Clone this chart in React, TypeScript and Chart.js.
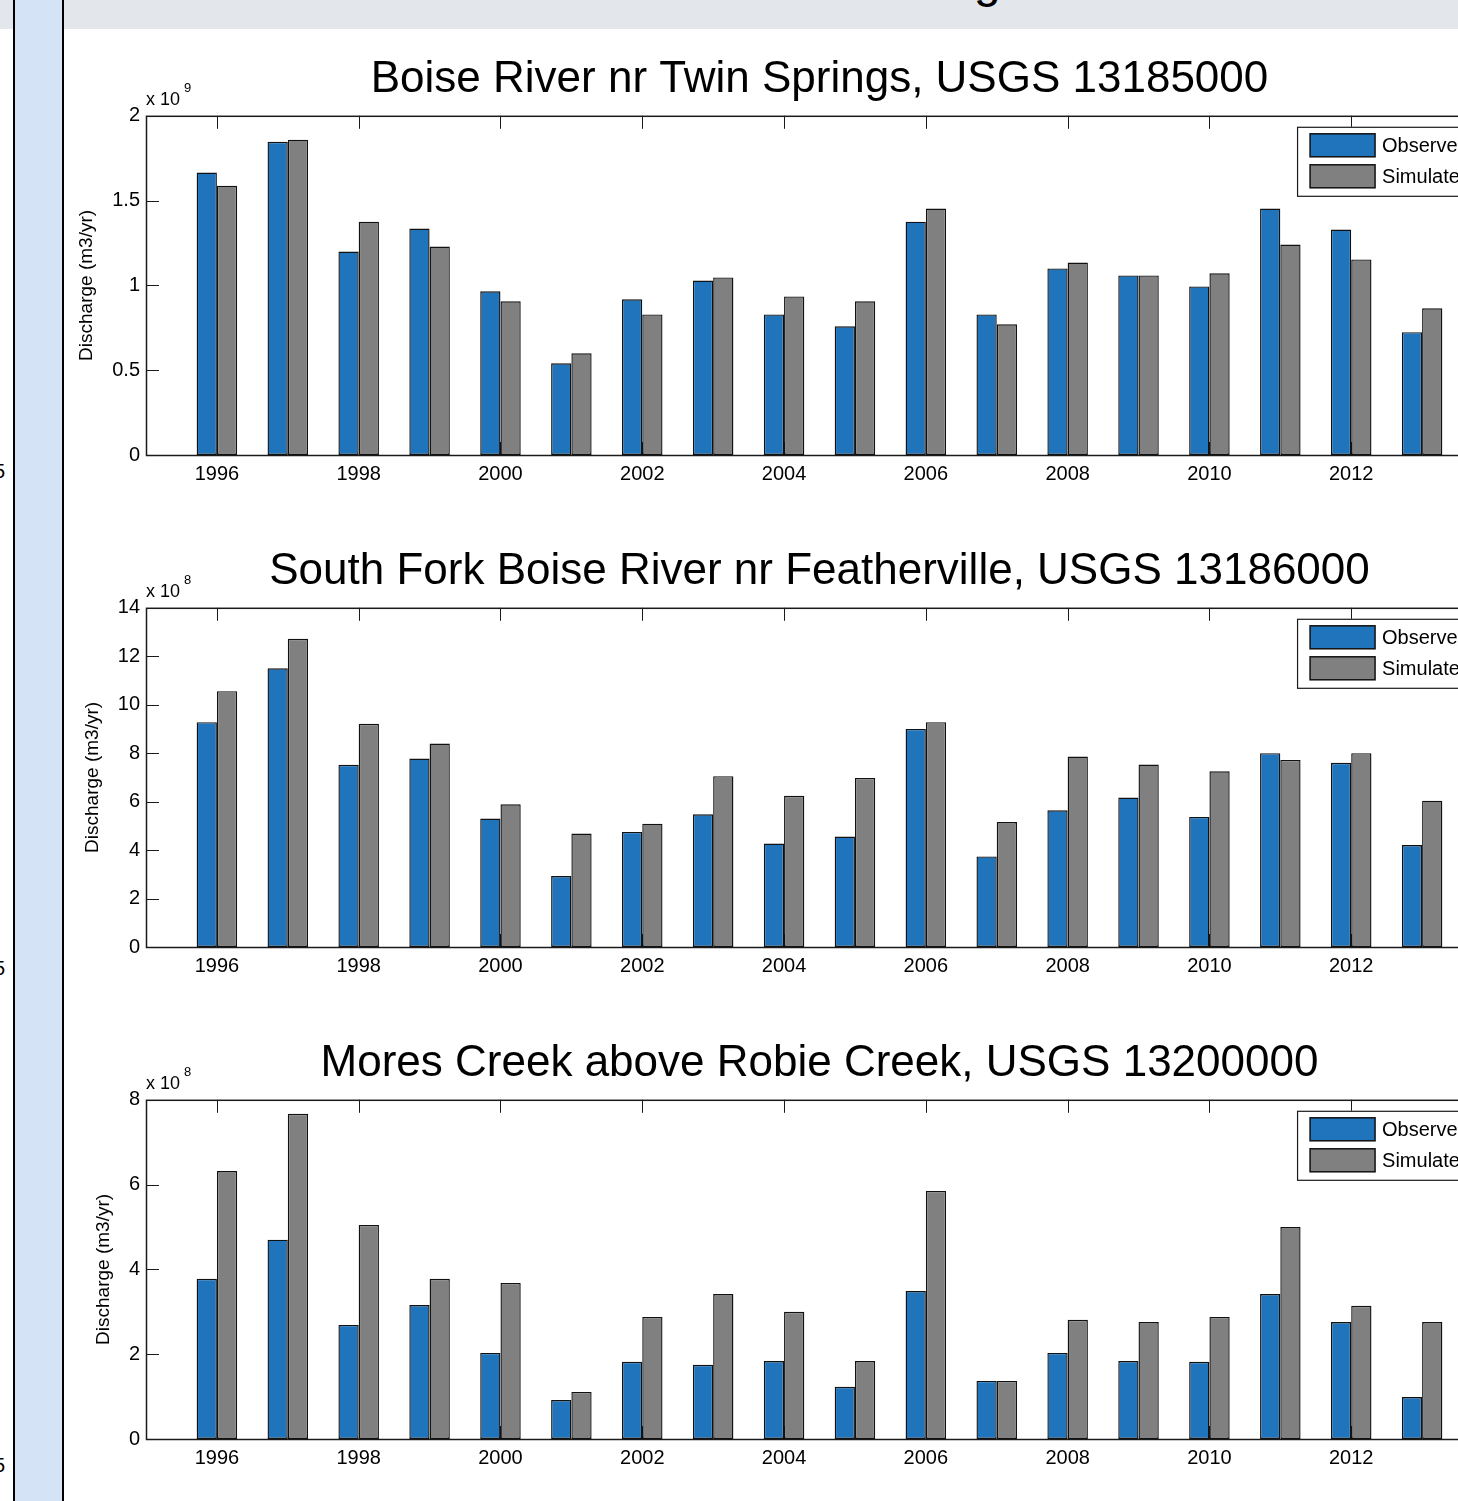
import React, { useEffect, useRef } from 'react';
import { Chart, registerables } from 'chart.js';

Chart.register(...registerables);

// Water years on the x axis and the years that get a tick label
const years = [1996, 1997, 1998, 1999, 2000, 2001, 2002, 2003, 2004, 2005, 2006, 2007, 2008, 2009, 2010, 2011, 2012, 2013];
const xTickYears = [1996, 1998, 2000, 2002, 2004, 2006, 2008, 2010, 2012, 2014];
const seriesNames = ['Observed', 'Simulated'];
const seriesColors = ['#1f74bc', '#808080'];
const yAxisTitle = 'Discharge (m3/yr)';

// Boise River nr Twin Springs (units of 10^9 m3/yr)
const twinTitle = 'Boise River nr Twin Springs, USGS 13185000';
const twinObserved = [1.665, 1.847, 1.2, 1.335, 0.965, 0.541, 0.918, 1.029, 0.829, 0.759, 1.376, 0.829, 1.1, 1.059, 0.994, 1.453, 1.329, 0.724];
const twinSimulated = [1.588, 1.859, 1.376, 1.229, 0.906, 0.6, 0.829, 1.047, 0.935, 0.906, 1.453, 0.771, 1.135, 1.059, 1.071, 1.241, 1.153, 0.865];
const twinExponent = 9;
const twinYMax = 2;
const twinYStep = 0.5;

// South Fork Boise River nr Featherville (units of 10^8 m3/yr)
const featherTitle = 'South Fork Boise River nr Featherville, USGS 13186000';
const featherObserved = [9.28, 11.5, 7.52, 7.78, 5.3, 2.93, 4.75, 5.48, 4.27, 4.56, 9.0, 3.74, 5.64, 6.17, 5.37, 8.0, 7.6, 4.21];
const featherSimulated = [10.56, 12.72, 9.21, 8.4, 5.89, 4.68, 5.09, 7.05, 6.24, 6.98, 9.28, 5.16, 7.86, 7.53, 7.25, 7.72, 8.0, 6.04];
const featherExponent = 8;
const featherYMax = 14;
const featherYStep = 2;

// Mores Creek above Robie Creek (units of 10^8 m3/yr)
const moresTitle = 'Mores Creek above Robie Creek, USGS 13200000';
const moresObserved = [3.78, 4.7, 2.69, 3.16, 2.03, 0.92, 1.82, 1.75, 1.84, 1.23, 3.49, 1.37, 2.03, 1.84, 1.82, 3.42, 2.76, 0.99];
const moresSimulated = [6.32, 7.67, 5.05, 3.78, 3.68, 1.11, 2.88, 3.42, 3.0, 1.84, 5.85, 1.37, 2.81, 2.76, 2.88, 5.0, 3.14, 2.76];
const moresExponent = 8;
const moresYMax = 8;
const moresYStep = 2;

const FONT = "'Liberation Sans', Arial, Helvetica, sans-serif";
const AXIS_COLOR = '#1a1a1a';
const EDGE_COLOR = '#111111';
const TICK_LEN = 13;
const CANVAS_W = 1560;
const CANVAS_H = 492;

// Plain tick text: 1, 0.5, 1.5 (no forced decimals)
const plainNumber = (v: number) => String(Math.round(v * 1000) / 1000);

// MATLAB-style axes: boxed frame, inward ticks on all sides, exponent note,
// y-axis label and an upper-right legend.
const matlabAxes = {
  id: 'matlabAxes',
  beforeDatasetsDraw(chart: any) {
    const { ctx, chartArea: a, scales } = chart;
    const x = scales.x;
    const y = scales.y;
    ctx.save();
    ctx.strokeStyle = AXIS_COLOR;
    ctx.lineWidth = 1;
    ctx.beginPath();
    for (const t of x.ticks) {
      const px = Math.round(x.getPixelForValue(t.value)) + 0.5;
      ctx.moveTo(px, a.top);
      ctx.lineTo(px, a.top + TICK_LEN);
      ctx.moveTo(px, a.bottom);
      ctx.lineTo(px, a.bottom - TICK_LEN);
    }
    for (const t of y.ticks) {
      const py = Math.round(y.getPixelForValue(t.value)) + 0.5;
      ctx.moveTo(a.left, py);
      ctx.lineTo(a.left + TICK_LEN, py);
      ctx.moveTo(a.right, py);
      ctx.lineTo(a.right - TICK_LEN, py);
    }
    ctx.stroke();
    ctx.restore();
  },
  afterDatasetsDraw(chart: any, _args: any, opts: any) {
    const { ctx, chartArea: a, scales } = chart;
    const y = scales.y;
    ctx.save();

    // axes box
    ctx.strokeStyle = AXIS_COLOR;
    ctx.lineWidth = 1.5;
    ctx.strokeRect(a.left + 0.5, a.top + 0.5, a.right - a.left, a.bottom - a.top);

    // exponent note "x 10^n"
    ctx.fillStyle = '#000';
    ctx.textAlign = 'left';
    ctx.textBaseline = 'alphabetic';
    ctx.font = `18px ${FONT}`;
    const base = 'x 10';
    ctx.fillText(base, a.left, a.top - 11);
    const bw = ctx.measureText(base).width;
    ctx.font = `13px ${FONT}`;
    ctx.fillText(String(opts.exponent), a.left + bw + 4, a.top - 24);

    // y-axis label, placed left of the widest tick label
    ctx.font = `20px ${FONT}`;
    let maxW = 0;
    for (const t of y.ticks) maxW = Math.max(maxW, ctx.measureText(String(t.label)).width);
    const cx = a.left - 6 - maxW - 14 - 11;
    ctx.save();
    ctx.translate(cx, (a.top + a.bottom) / 2);
    ctx.rotate(-Math.PI / 2);
    ctx.font = `19px ${FONT}`;
    ctx.textAlign = 'center';
    ctx.textBaseline = 'middle';
    ctx.fillText(opts.yTitle, 0, 0);
    ctx.restore();

    // legend
    const sets = chart.data.datasets;
    ctx.font = `20px ${FONT}`;
    const textW = Math.max(...sets.map((d: any) => ctx.measureText(d.label).width));
    const swW = 65;
    const swH = 23;
    const boxW = 13 + swW + 7 + textW + 11;
    const boxH = 69;
    const right = a.right - 11;
    const left = right - boxW;
    const top = a.top + 11;
    ctx.fillStyle = '#fff';
    ctx.fillRect(left, top, boxW, boxH);
    ctx.strokeStyle = AXIS_COLOR;
    ctx.lineWidth = 1.2;
    ctx.strokeRect(left + 0.5, top + 0.5, boxW, boxH);
    sets.forEach((d: any, i: number) => {
      const sx = left + 13;
      const sy = top + 7 + i * 31;
      ctx.fillStyle = d.backgroundColor;
      ctx.fillRect(sx, sy, swW, swH);
      ctx.strokeStyle = EDGE_COLOR;
      ctx.lineWidth = 1.5;
      ctx.strokeRect(sx, sy, swW, swH);
      ctx.fillStyle = '#000';
      ctx.textAlign = 'left';
      ctx.textBaseline = 'middle';
      ctx.fillText(d.label, sx + swW + 7, sy + swH / 2 + 1);
    });
    ctx.restore();
  },
};

type PanelProps = {
  title: string;
  observed: number[];
  simulated: number[];
  exponent: number;
  yMax: number;
  yStep: number;
  top: number;
};

function DischargePanel({ title, observed, simulated, exponent, yMax, yStep, top }: PanelProps) {
  const ref = useRef<HTMLCanvasElement | null>(null);

  useEffect(() => {
    if (!ref.current) return;
    const barStyle = {
      borderColor: EDGE_COLOR,
      borderWidth: 1.4,
      borderSkipped: false,
      inflateAmount: 0,
      categoryPercentage: 0.5714,
      barPercentage: 1,
    };
    const chart = new Chart(ref.current, {
      type: 'bar',
      data: {
        labels: years,
        datasets: [
          { label: seriesNames[0], data: observed, backgroundColor: seriesColors[0], ...barStyle },
          { label: seriesNames[1], data: simulated, backgroundColor: seriesColors[1], ...barStyle },
        ],
      },
      options: {
        animation: false,
        responsive: false,
        devicePixelRatio: 1,
        layout: { padding: { left: 60, right: CANVAS_W - 1493, top: 0, bottom: 0 } },
        plugins: {
          legend: { display: false },
          tooltip: { enabled: false },
          title: {
            display: true,
            text: title,
            fullSize: false,
            color: '#000',
            font: { family: FONT, size: 44, weight: 'normal' },
            padding: { top: 29, bottom: 10 },
          },
          matlabAxes: { exponent, yTitle: yAxisTitle },
        } as any,
        scales: {
          x: {
            type: 'linear',
            min: 1995,
            max: 2014,
            offset: false,
            grid: { display: false, drawTicks: false },
            border: { display: false },
            afterBuildTicks: (s: any) => {
              s.ticks = xTickYears.map((v) => ({ value: v }));
            },
            afterFit: (s: any) => {
              s.height = 61;
            },
            ticks: {
              color: '#000',
              font: { family: FONT, size: 20 },
              padding: 7,
              maxRotation: 0,
              autoSkip: false,
              callback: (v: any) => String(v),
            },
          },
          y: {
            min: 0,
            max: yMax,
            grid: { display: false, drawTicks: false },
            border: { display: false },
            afterFit: (s: any) => {
              s.width = 86;
            },
            ticks: {
              stepSize: yStep,
              color: '#000',
              font: { family: FONT, size: 20 },
              padding: 6,
              callback: (v: any) => plainNumber(Number(v)),
            },
          },
        },
      } as any,
      plugins: [matlabAxes as any],
    });
    return () => chart.destroy();
  }, [title, observed, simulated, exponent, yMax, yStep]);

  return (
    <canvas
      ref={ref}
      width={CANVAS_W}
      height={CANVAS_H}
      style={{ position: 'absolute', left: 0, top, width: CANVAS_W, height: CANVAS_H }}
    />
  );
}

export default function App() {
  const digitStyle: React.CSSProperties = {
    position: 'absolute',
    left: -6,
    font: `20px ${FONT}`,
    lineHeight: '24px',
    color: '#000',
  };
  return (
    <div
      style={{
        position: 'absolute',
        left: 0,
        top: 0,
        width: 1458,
        height: 1501,
        overflow: 'hidden',
        background: '#fff',
      }}
    >
      <div style={{ position: 'absolute', left: 0, top: 0, width: 1458, height: 29, background: '#e3e6eb' }} />
      <span style={{ position: 'absolute', left: 974, top: -43, font: `48px ${FONT}`, lineHeight: '48px', color: '#000' }}>g</span>
      <div style={{ position: 'absolute', left: 13, top: 0, width: 2, height: 1501, background: '#000' }} />
      <div style={{ position: 'absolute', left: 15, top: 0, width: 47, height: 1501, background: '#d4e3f5' }} />
      <div style={{ position: 'absolute', left: 62, top: 0, width: 2, height: 1501, background: '#000' }} />
      <span style={{ ...digitStyle, top: 459 }}>5</span>
      <span style={{ ...digitStyle, top: 956 }}>5</span>
      <span style={{ ...digitStyle, top: 1453 }}>5</span>
      <DischargePanel title={twinTitle} observed={twinObserved} simulated={twinSimulated} exponent={twinExponent} yMax={twinYMax} yStep={twinYStep} top={24} />
      <DischargePanel title={featherTitle} observed={featherObserved} simulated={featherSimulated} exponent={featherExponent} yMax={featherYMax} yStep={featherYStep} top={516} />
      <DischargePanel title={moresTitle} observed={moresObserved} simulated={moresSimulated} exponent={moresExponent} yMax={moresYMax} yStep={moresYStep} top={1008} />
    </div>
  );
}
